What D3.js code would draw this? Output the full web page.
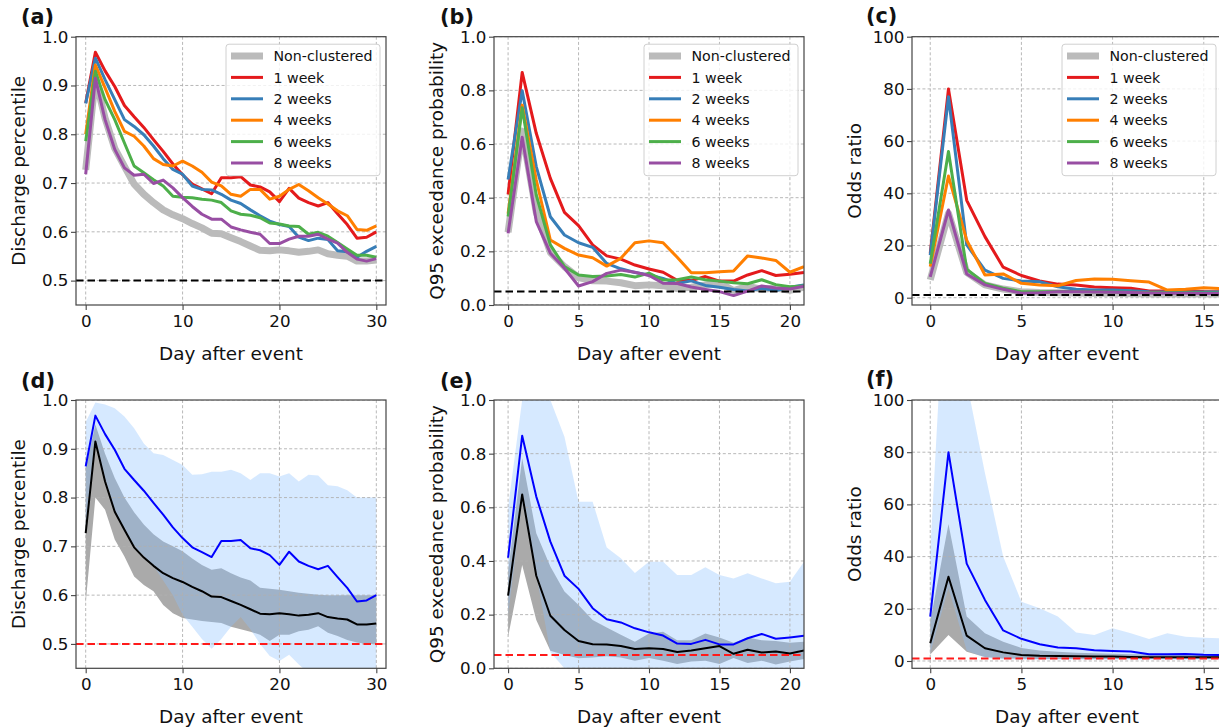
<!DOCTYPE html>
<html><head><meta charset="utf-8">
<script src="https://cdn.jsdelivr.net/npm/d3@7/dist/d3.min.js"></script>
<style>
body{margin:0;background:#fff}
svg{display:block}
text{font-family:"DejaVu Sans",sans-serif;fill:#111}
</style>
</head><body>
<svg id="chart" width="1219" height="727"></svg>
<script>
// ---------------- DATA ----------------
const daysDis = [0,1,2,3,4,5,6,7,8,9,10,11,12,13,14,15,16,17,18,19,20,21,22,23,24,25,26,27,28,29,30];
const daysQ95 = [0,1,2,3,4,5,6,7,8,9,10,11,12,13,14,15,16,17,18,19,20,21];
const daysOdds = [0,1,2,3,4,5,6,7,8,9,10,11,12,13,14,15,16];

const seriesNames = ["Non-clustered","1 week","2 weeks","4 weeks","6 weeks","8 weeks"];

// Discharge percentile
const disNon = [0.727,0.915,0.833,0.771,0.734,0.698,0.677,0.660,0.645,0.635,0.627,0.617,0.608,0.597,0.596,0.588,0.580,0.571,0.562,0.561,0.563,0.561,0.558,0.560,0.563,0.555,0.552,0.550,0.540,0.540,0.542];
const dis1w = [0.864,0.968,0.930,0.898,0.859,0.836,0.814,0.789,0.765,0.739,0.717,0.698,0.688,0.678,0.711,0.711,0.713,0.696,0.692,0.682,0.662,0.689,0.669,0.660,0.653,0.660,0.637,0.615,0.587,0.589,0.600];
const dis2w = [0.863,0.956,0.912,0.871,0.830,0.816,0.799,0.776,0.750,0.728,0.718,0.694,0.687,0.686,0.677,0.665,0.658,0.645,0.633,0.622,0.615,0.611,0.589,0.582,0.587,0.584,0.561,0.559,0.548,0.560,0.570];
const dis4w = [0.800,0.942,0.895,0.847,0.806,0.796,0.776,0.750,0.738,0.735,0.745,0.735,0.722,0.702,0.694,0.677,0.673,0.687,0.687,0.667,0.673,0.687,0.697,0.684,0.670,0.657,0.643,0.633,0.605,0.603,0.612];
const dis6w = [0.786,0.929,0.871,0.830,0.782,0.735,0.721,0.707,0.694,0.673,0.671,0.670,0.667,0.665,0.660,0.643,0.636,0.634,0.629,0.618,0.616,0.612,0.611,0.595,0.599,0.591,0.578,0.565,0.552,0.552,0.548];
const dis8w = [0.718,0.915,0.830,0.769,0.731,0.716,0.718,0.699,0.706,0.690,0.670,0.652,0.636,0.626,0.626,0.610,0.604,0.599,0.595,0.576,0.576,0.585,0.591,0.591,0.595,0.585,0.577,0.558,0.544,0.540,0.545];
const dis1wHi = [0.955,0.995,0.991,0.983,0.966,0.942,0.911,0.891,0.887,0.877,0.867,0.847,0.848,0.853,0.853,0.857,0.850,0.836,0.850,0.850,0.843,0.850,0.833,0.847,0.845,0.825,0.823,0.815,0.800,0.800,0.800];
const dis1wLo = [0.73,0.91,0.84,0.77,0.73,0.70,0.68,0.66,0.63,0.60,0.56,0.535,0.51,0.49,0.51,0.535,0.555,0.53,0.50,0.475,0.465,0.478,0.458,0.44,0.44,0.44,0.44,0.44,0.44,0.44,0.44];
const disNonHi = [0.86,0.95,0.89,0.84,0.80,0.77,0.745,0.725,0.71,0.70,0.69,0.675,0.662,0.652,0.655,0.645,0.636,0.63,0.615,0.613,0.611,0.608,0.605,0.603,0.601,0.60,0.60,0.60,0.60,0.60,0.60];
const disNonLo = [0.584,0.80,0.775,0.714,0.679,0.638,0.621,0.608,0.58,0.563,0.553,0.55,0.547,0.545,0.543,0.535,0.53,0.525,0.519,0.506,0.519,0.519,0.526,0.529,0.536,0.523,0.516,0.508,0.503,0.50,0.50];

// Q95 exceedance probability
const q95Non = [0.271,0.648,0.345,0.196,0.143,0.102,0.090,0.089,0.083,0.072,0.075,0.072,0.061,0.066,0.075,0.083,0.054,0.069,0.059,0.063,0.055,0.066];
const q951w = [0.412,0.867,0.640,0.472,0.345,0.296,0.224,0.183,0.171,0.149,0.134,0.122,0.092,0.091,0.106,0.089,0.089,0.112,0.128,0.110,0.115,0.121];
const q952w = [0.468,0.799,0.516,0.329,0.261,0.232,0.215,0.155,0.135,0.121,0.112,0.099,0.080,0.090,0.073,0.066,0.058,0.052,0.062,0.054,0.066,0.075];
const q954w = [0.340,0.745,0.466,0.242,0.211,0.186,0.176,0.145,0.174,0.232,0.239,0.232,0.178,0.120,0.120,0.124,0.127,0.183,0.175,0.166,0.122,0.143];
const q956w = [0.330,0.735,0.410,0.224,0.143,0.112,0.106,0.108,0.114,0.104,0.119,0.093,0.094,0.104,0.094,0.089,0.083,0.079,0.094,0.076,0.068,0.071];
const q958w = [0.267,0.625,0.311,0.193,0.137,0.071,0.087,0.118,0.130,0.122,0.110,0.081,0.080,0.067,0.058,0.050,0.035,0.052,0.071,0.063,0.060,0.070];
const q951wHi = [0.60,1.0,1.0,1.0,0.863,0.621,0.621,0.45,0.41,0.355,0.397,0.397,0.348,0.348,0.377,0.348,0.335,0.354,0.335,0.317,0.323,0.397];
const q951wLo = [0.20,0.62,0.35,0.06,0.0,0.0,0.0,0.0,0.0,0.0,0.0,0.0,0.0,0.0,0.0,0.0,0.0,0.0,0.0,0.0,0.0,0.0];
const q95NonHi = [0.36,0.783,0.503,0.379,0.286,0.236,0.180,0.152,0.125,0.099,0.130,0.136,0.105,0.105,0.130,0.115,0.095,0.115,0.105,0.102,0.095,0.099];
const q95NonLo = [0.118,0.385,0.18,0.065,0.05,0.037,0.04,0.045,0.04,0.028,0.038,0.028,0.016,0.025,0.028,0.016,0.038,0.02,0.028,0.014,0.025,0.035];

// Odds ratio
const oddsNon = [6.8,32.3,9.7,4.9,3.3,2.3,2.0,1.9,1.8,1.7,1.7,1.5,1.4,1.4,1.4,1.4,1.4];
const odds1w = [17.0,80.0,37.3,23.4,11.7,8.5,6.4,5.2,4.9,4.1,3.8,3.6,2.6,2.6,2.7,2.4,2.3];
const odds2w = [16.3,77.0,20.2,10.6,7.4,6.4,6.1,4.2,3.2,2.9,2.9,2.7,2.3,2.2,2.2,2.2,2.2];
const odds4w = [11.9,46.6,22.0,8.7,9.1,5.5,4.9,4.6,6.6,7.2,7.1,6.5,6.0,2.9,3.2,3.8,3.5];
const odds6w = [13.0,56.0,10.9,5.5,3.6,2.3,2.3,2.4,2.4,2.3,2.2,2.1,2.0,1.9,1.9,1.8,1.8];
const odds8w = [8.0,33.6,9.1,4.9,3.2,1.7,1.9,2.3,2.3,2.2,2.1,2.0,1.8,1.7,1.7,1.6,1.6];
const odds1wHi = [42,171,107,72,40,22.7,20.2,17,10.9,10,12.5,10.6,8.4,10.6,9.3,8.9,8.7];
const odds1wLo = [3,28,4,1.2,0.6,0.5,0.5,0.5,0.5,0.5,0.5,0.5,0.5,0.5,0.5,0.5,0.5];
const oddsNonHi = [15,52.5,17,10.6,7.4,5.0,4.0,3.5,3.2,3.0,2.8,2.6,2.5,2.4,2.4,2.3,2.3];
const oddsNonLo = [2.5,10,3.5,1.5,1.0,0.9,0.8,0.8,0.8,0.8,0.8,0.8,0.8,0.8,0.8,0.8,0.8];

// Ticks
const xTicksDis = [0,10,20,30];
const xTicksQ95 = [0,5,10,15,20];
const xTicksOdds = [0,5,10,15];
const yTicksDis = [0.5,0.6,0.7,0.8,0.9,1.0];
const yTicksQ95 = [0.0,0.2,0.4,0.6,0.8,1.0];
const yTicksOdds = [0,20,40,60,80,100];
const yLabels = ["Discharge percentile","Q95 exceedance probability","Odds ratio"];
const xLabel = "Day after event";
const panelLetters = ["(a)","(b)","(c)","(d)","(e)","(f)"];
const refValues = [0.5, 0.05, 1];

// ---------------- DRAWING ----------------
const svg = d3.select("#chart");
const W = 310;
const rowsY = [{t:36.7,b:305},{t:400,b:668.3}];
const colsX = [76,494,912];
const setColors = ["#bbbbbb","#e41a1c","#377eb8","#ff7f00","#4daf4a","#984ea3"];
const spineColor = "#444";

const metrics = [
  {days:daysDis, xd:[-1,31], yd:[0.45,1.0], xt:xTicksDis, yt:yTicksDis, fmt:d3.format(".1f"),
   series:[disNon,dis1w,dis2w,dis4w,dis6w,dis8w], bandBlue:[dis1wLo,dis1wHi], bandGray:[disNonLo,disNonHi]},
  {days:daysQ95, xd:[-1,21], yd:[0,1.0], xt:xTicksQ95, yt:yTicksQ95, fmt:d3.format(".1f"),
   series:[q95Non,q951w,q952w,q954w,q956w,q958w], bandBlue:[q951wLo,q951wHi], bandGray:[q95NonLo,q95NonHi]},
  {days:daysOdds, xd:[-1,16], yd:[-2.8,100], xt:xTicksOdds, yt:yTicksOdds, fmt:d3.format("d"),
   series:[oddsNon,odds1w,odds2w,odds4w,odds6w,odds8w], bandBlue:[odds1wLo,odds1wHi], bandGray:[oddsNonLo,oddsNonHi]}
];
const letterX = [21,440,866];
const letterDy = [12.5,12.5,14];

let clipN = 0;
function drawPanel(m, ci, ri) {
  const left = colsX[ci], top = rowsY[ri].t, bottom = rowsY[ri].b;
  const x = d3.scaleLinear().domain(m.xd).range([left, left+W]);
  const y = d3.scaleLinear().domain(m.yd).range([bottom, top]);
  const id = "clip"+(clipN++);
  svg.append("clipPath").attr("id",id).append("rect")
    .attr("x",left).attr("y",top).attr("width",W).attr("height",bottom-top);
  const g = svg.append("g");
  const body = g.append("g").attr("clip-path",`url(#${id})`);

  if (ri === 1) {
    const areaOf = (lo,hi) => d3.area().x((d,i)=>x(m.days[i])).y0((d,i)=>y(lo[i])).y1((d,i)=>y(hi[i]));
    body.append("path").datum(m.bandGray[1]).attr("d",areaOf(m.bandGray[0],m.bandGray[1]))
      .attr("fill","#aaaaaa");
    body.append("path").datum(m.bandBlue[1]).attr("d",areaOf(m.bandBlue[0],m.bandBlue[1]))
      .attr("fill","rgb(140,195,255)").attr("fill-opacity",0.36);
  }

  // grid
  const grid = body.append("g").attr("stroke","#b0b0b0").attr("stroke-width",0.9).attr("stroke-dasharray","3,2.2");
  m.xt.forEach(t=>grid.append("line").attr("x1",x(t)).attr("x2",x(t)).attr("y1",top).attr("y2",bottom));
  m.yt.forEach(t=>grid.append("line").attr("x1",left).attr("x2",left+W).attr("y1",y(t)).attr("y2",y(t)));

  const line = d3.line().x((d,i)=>x(m.days[i])).y(d=>y(d));
  if (ri === 0) {
    m.series.forEach((s,k)=>{
      body.append("path").datum(s).attr("d",line).attr("fill","none")
        .attr("stroke",setColors[k]).attr("stroke-width",k===0?7:3)
        .attr("stroke-linejoin","round").attr("stroke-linecap","butt");
    });
    body.append("line").attr("x1",left).attr("x2",left+W).attr("y1",y(refValues[ci])).attr("y2",y(refValues[ci]))
      .attr("stroke","#000").attr("stroke-width",2).attr("stroke-dasharray","7.5,4");
  } else {
    body.append("path").datum(m.series[1]).attr("d",line).attr("fill","none")
      .attr("stroke","#0000ff").attr("stroke-width",2).attr("stroke-linejoin","round");
    body.append("path").datum(m.series[0]).attr("d",line).attr("fill","none")
      .attr("stroke","#000").attr("stroke-width",2).attr("stroke-linejoin","round");
    body.append("line").attr("x1",left).attr("x2",left+W).attr("y1",y(refValues[ci])).attr("y2",y(refValues[ci]))
      .attr("stroke","#ff1a1a").attr("stroke-width",2).attr("stroke-dasharray","7.5,4");
  }

  // axes
  const ax = g.append("g").attr("transform",`translate(0,${bottom})`)
    .call(d3.axisBottom(x).tickValues(m.xt).tickSize(5).tickPadding(5.3).tickFormat(d3.format("d")));
  const ay = g.append("g").attr("transform",`translate(${left},0)`)
    .call(d3.axisLeft(y).tickValues(m.yt).tickSize(5).tickPadding(2.5).tickFormat(m.fmt));
  [ax,ay].forEach(a=>{
    a.select(".domain").remove();
    a.selectAll(".tick line").attr("stroke",spineColor).attr("stroke-width",1.1);
    a.selectAll(".tick text").attr("font-size","16.7px").attr("fill","#111").attr("font-family","DejaVu Sans");
  });

  // frame
  g.append("rect").attr("x",left).attr("y",top).attr("width",W).attr("height",bottom-top)
    .attr("fill","none").attr("stroke",spineColor).attr("stroke-width",1.2);

  // labels
  g.append("text").attr("x",left+W/2).attr("y",bottom+55).attr("text-anchor","middle")
    .attr("font-size","18.4px").text(xLabel);
  g.append("text").attr("transform",`translate(${left-51},${(top+bottom)/2}) rotate(-90)`)
    .attr("text-anchor","middle").attr("font-size","18.4px").text(yLabels[ci]);
  g.append("text").attr("x",letterX[ci]).attr("y",top-letterDy[ci]).attr("font-size","20.8px")
    .attr("font-weight","bold").text(panelLetters[ri*3+ci]);

  // legend
  if (ri === 0) {
    const lx = left+W-160, ly = top+7.5;
    const lg = g.append("g");
    lg.append("rect").attr("x",lx).attr("y",ly).attr("width",154).attr("height",131.5).attr("rx",3)
      .attr("fill","#fff").attr("fill-opacity",0.8).attr("stroke","#d0d0d0").attr("stroke-width",1);
    seriesNames.forEach((nm,k)=>{
      const cy = ly+11.8+k*21.4;
      lg.append("line").attr("x1",lx+5).attr("x2",lx+37).attr("y1",cy).attr("y2",cy)
        .attr("stroke",setColors[k]).attr("stroke-width",k===0?7:3);
      lg.append("text").attr("x",lx+47.5).attr("y",cy+5.2).attr("font-size","14.2px").text(nm);
    });
  }
}

metrics.forEach((m,ci)=>{ drawPanel(m,ci,0); drawPanel(m,ci,1); });
</script>
</body></html>
